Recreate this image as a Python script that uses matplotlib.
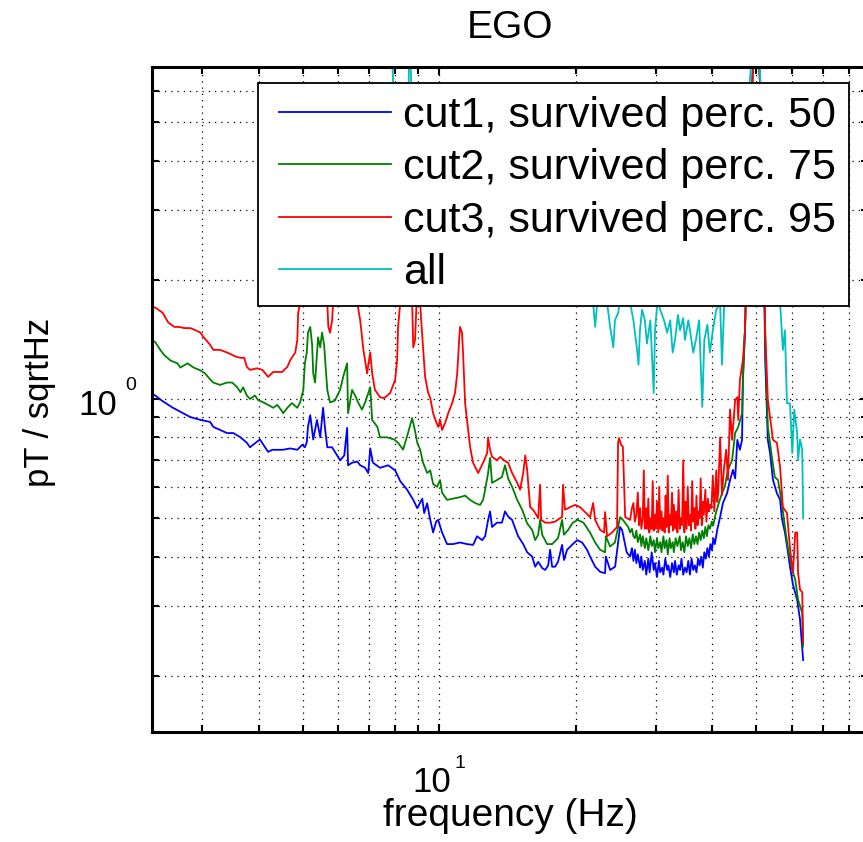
import numpy as np
import matplotlib
matplotlib.use('Agg')
import matplotlib.pyplot as plt
from matplotlib.ticker import LogLocator, NullFormatter
from matplotlib.legend_handler import HandlerLine2D

# --- Data (frequency in Hz, amplitude in pT/sqrtHz) ---
freq_cut1 = [2.33, 2.37, 2.45, 2.59, 2.73, 2.83, 2.98, 3.13, 3.18, 3.29,
             3.41, 3.52, 3.65, 3.77, 3.83, 3.97, 4.03, 4.10, 4.20, 4.29,
             4.40, 4.52, 4.70, 4.87, 4.99, 5.06, 5.11, 5.14, 5.20, 5.28,
             5.38, 5.47, 5.55, 5.61, 5.67, 5.81, 5.96, 6.05, 6.18, 6.27,
             6.30, 6.43, 6.60, 6.70, 6.87, 6.98, 7.05, 7.15, 7.41, 7.72,
             8.00, 8.21, 8.50, 8.77, 8.95, 9.18, 9.27, 9.41, 9.56, 9.70,
             9.85, 9.95, 10.15, 10.41, 10.73, 11.12, 11.52, 11.88, 12.12, 12.44,
             12.63, 12.82, 12.95, 13.08, 13.41, 13.75, 13.97, 14.19, 14.48, 14.93,
             15.32, 15.63, 16.03, 16.28, 16.53, 16.87, 17.13, 17.39, 17.56, 17.74,
             18.01, 18.28, 18.66, 18.84, 19.14, 19.62, 20.14, 20.66, 21.18, 21.51,
             22.07, 22.63, 23.21, 23.3, 23.81, 24.42, 24.79, 25.04, 25.3, 25.9,
             26.35, 26.6, 26.8, 27.0, 27.2, 27.4, 27.72, 27.9, 28.1, 28.4,
             28.6, 28.9, 29.1, 29.4, 29.7, 29.9, 30.2, 30.5, 30.7, 31.0,
             31.2, 31.5, 31.8, 32.0, 32.3, 32.6, 32.9, 33.1, 33.4, 33.7,
             33.95, 34.2, 34.5, 34.8, 35.1, 35.4, 35.7, 36.0, 36.3, 36.6,
             36.9, 37.2, 37.5, 37.8, 38.1, 38.4, 38.7, 39.0, 39.3, 39.6,
             39.9, 40.2, 40.5, 41.0,
             41.6, 42.2, 43.1, 43.75, 44.4, 44.9, 45.4,
             46.0, 46.5, 46.7, 47.2, 47.7, 48.4, 49.2, 49.7, 50.2, 50.9,
             51.7, 52.3, 53.0, 53.6, 54.4, 55.5, 56.4, 56.9, 57.8, 58.7,
             59.3, 60.2, 61.5, 62.4, 63.4]
psd_cut1 = [1.03, 1.02, 0.99, 0.95, 0.92, 0.90, 0.885, 0.875, 0.85, 0.835,
            0.82, 0.82, 0.80, 0.775, 0.755, 0.78, 0.79, 0.766, 0.735, 0.744,
            0.744, 0.744, 0.75, 0.744, 0.766, 0.755, 0.777, 0.85, 0.91, 0.79,
            0.885, 0.80, 0.95, 0.835, 0.755, 0.755, 0.72, 0.70, 0.72, 0.845,
            0.68, 0.69, 0.695, 0.68, 0.67, 0.65, 0.75, 0.69, 0.67, 0.68,
            0.66, 0.62, 0.59, 0.556, 0.53, 0.56, 0.515, 0.545, 0.495, 0.46,
            0.49, 0.495, 0.46, 0.43, 0.43, 0.434, 0.43, 0.428, 0.45, 0.44,
            0.45, 0.495, 0.52, 0.475, 0.487, 0.487, 0.52, 0.505, 0.495, 0.45,
            0.43, 0.41, 0.40, 0.377, 0.388, 0.374, 0.37, 0.38, 0.416, 0.377,
            0.377, 0.388, 0.428, 0.392, 0.416, 0.428, 0.44, 0.434, 0.416, 0.40,
            0.377, 0.366, 0.363, 0.40, 0.37, 0.377, 0.434, 0.475, 0.467, 0.41,
            0.40, 0.42, 0.39, 0.416, 0.385, 0.405, 0.375, 0.40, 0.37, 0.39,
            0.36, 0.395, 0.365, 0.41, 0.37, 0.385, 0.355, 0.39, 0.365, 0.375,
            0.36, 0.395, 0.37, 0.38, 0.355, 0.385, 0.365, 0.39, 0.36, 0.38,
            0.37, 0.395, 0.36, 0.375, 0.365, 0.39, 0.36, 0.395, 0.37, 0.38,
            0.365, 0.395, 0.38, 0.40, 0.375, 0.41, 0.395, 0.42, 0.40, 0.43,
            0.415, 0.445, 0.43, 0.467,
            0.503, 0.546, 0.578, 0.624, 0.662, 0.63, 0.788,
            0.744, 0.788, 1.117, 1.494, 2.38, 4.25, 7.2, 9.0, 9.0, 6.4,
            3.18, 1.25, 0.788, 0.73, 0.624, 0.578, 0.556, 0.50, 0.46, 0.41,
            0.377, 0.34, 0.311, 0.277, 0.219]

freq_cut2 = [2.33, 2.37, 2.43, 2.48, 2.56, 2.65, 2.69, 2.79, 2.88, 2.98,
             3.05, 3.13, 3.18, 3.29, 3.41, 3.50, 3.59, 3.65, 3.70, 3.77,
             3.83, 3.93, 3.99, 4.10, 4.20, 4.31, 4.40, 4.51, 4.53, 4.65,
             4.74, 4.87, 4.94, 5.02, 5.06, 5.11, 5.14, 5.20, 5.25, 5.28,
             5.33, 5.41, 5.47, 5.52, 5.58, 5.61, 5.67, 5.75, 5.89, 6.05,
             6.15, 6.27, 6.30, 6.43, 6.53, 6.63, 6.76, 6.87, 7.05, 7.12,
             7.31, 7.41, 7.68, 7.96, 8.12, 8.33, 8.54, 8.72, 8.85, 8.95,
             9.08, 9.22, 9.41, 9.56, 9.70, 9.90, 10.05, 10.15, 10.41, 10.73,
             11.12, 11.41, 11.70, 12.0, 12.31, 12.5, 12.63, 12.82, 12.95, 13.08,
             13.41, 13.75, 13.97, 14.19, 14.48, 14.86, 15.24, 15.63, 16.03, 16.28,
             16.53, 16.69, 16.87, 17.3, 17.74, 18.28, 18.66, 18.84, 19.24, 19.7,
             20.2, 20.8, 21.5, 22.07, 22.63, 23.21, 23.3, 23.81, 24.4, 24.8,
             25.04, 25.4, 26.1,
             26.35, 26.6, 26.8, 27.0, 27.2, 27.4, 27.72, 27.9, 28.1, 28.4,
             28.6, 28.9, 29.2, 29.4, 29.7, 29.9, 30.2, 30.4, 30.7, 30.9,
             31.2, 31.4, 31.7, 31.9, 32.2, 32.4, 32.7, 32.9, 33.2, 33.5,
             33.9, 34.1, 34.4, 34.7, 35.0, 35.3, 35.6, 35.9, 36.2, 36.5,
             36.8, 37.1, 37.4, 37.7, 38.0, 38.3, 38.6, 38.9, 39.2, 39.5,
             39.9, 40.2, 40.5,
             41.2, 42.0, 42.6, 43.3, 44.2, 44.9,
             45.6, 46.5, 46.7, 47.2, 47.7, 48.4, 49.2, 49.7, 50.2, 50.9,
             51.7, 52.3, 53.0, 54.1, 54.9, 55.8, 56.9, 57.8, 58.7, 60.0,
             60.9, 61.8, 63.1, 63.4]
psd_cut2 = [1.41, 1.39, 1.33, 1.29, 1.25, 1.23, 1.20, 1.23, 1.20, 1.18,
            1.16, 1.12, 1.10, 1.085, 1.10, 1.10, 1.07, 1.04, 1.07, 1.02,
            1.00, 1.02, 0.994, 0.98, 0.966, 0.95, 0.966, 0.93, 0.92, 0.955,
            0.976, 0.95, 0.98, 1.054, 1.23, 1.31, 1.47, 1.52, 1.37, 1.16,
            1.10, 1.43, 1.35, 1.47, 1.37, 1.25, 1.054, 0.98, 0.99, 1.054,
            1.14, 1.23, 0.92, 1.054, 1.02, 0.98, 0.94, 0.98, 1.07, 0.885,
            0.85, 0.80, 0.80, 0.79, 0.775, 0.745, 0.82, 0.895, 0.83, 0.775,
            0.745, 0.69, 0.65, 0.66, 0.61, 0.60, 0.624, 0.58, 0.556, 0.56,
            0.565, 0.57, 0.556, 0.546, 0.54, 0.556, 0.59, 0.65, 0.71, 0.614,
            0.624, 0.635, 0.68, 0.63, 0.60, 0.556, 0.525, 0.485, 0.467, 0.44,
            0.454, 0.495, 0.454, 0.43, 0.43, 0.445, 0.495, 0.454, 0.467, 0.487,
            0.495, 0.487, 0.46, 0.434, 0.416, 0.41, 0.45, 0.424, 0.434, 0.475,
            0.503, 0.495, 0.475,
            0.46, 0.47, 0.45, 0.445, 0.465, 0.435, 0.455, 0.425, 0.45, 0.42,
            0.445, 0.415, 0.45, 0.425, 0.44, 0.41, 0.445, 0.42, 0.435, 0.41,
            0.45, 0.42, 0.44, 0.405, 0.445, 0.42, 0.435, 0.41, 0.445, 0.425,
            0.45, 0.415, 0.435, 0.41, 0.45, 0.425, 0.445, 0.42, 0.455, 0.43,
            0.45, 0.43, 0.46, 0.44, 0.465, 0.445, 0.475, 0.45, 0.48, 0.47,
            0.49, 0.48, 0.503,
            0.54, 0.578, 0.60, 0.662, 0.70, 0.82,
            0.85, 0.92, 1.117, 1.494, 2.38, 4.25, 7.2, 9.0, 9.0, 6.4,
            3.18, 1.41, 0.85, 0.714, 0.635, 0.624, 0.546, 0.475, 0.42, 0.37,
            0.35, 0.311, 0.288, 0.237]

freq_cut3 = [2.33, 2.37, 2.46, 2.53, 2.61, 2.68, 2.74, 2.83, 2.91, 2.98,
             3.03, 3.13, 3.18, 3.29, 3.41, 3.56, 3.65, 3.72, 3.77, 3.83,
             3.97, 4.08, 4.14, 4.20, 4.31, 4.51, 4.63, 4.70, 4.82, 4.87,
             4.89, 4.94, 4.99, 5.06, 5.20, 5.41, 5.61, 5.67, 5.70, 5.75,
             5.81, 5.84, 6.05, 6.21, 6.37, 6.60, 6.70, 6.81, 6.94, 6.98,
             7.05, 7.12, 7.22, 7.41, 7.57, 7.80, 8.00, 8.08, 8.12, 8.21,
             8.41, 8.72, 8.77, 8.85, 8.99, 9.13, 9.31, 9.46, 9.56, 9.70,
             9.85, 9.95, 10.05, 10.15, 10.31, 10.47, 10.68, 10.84, 10.96, 11.07,
             11.12, 11.23, 11.29, 11.41, 11.52, 11.70, 11.88, 12.19, 12.5, 12.76,
             12.82, 12.95, 13.08, 13.41, 13.63, 13.9, 14.19, 14.48, 14.86, 15.08,
             15.32, 15.48, 15.63, 15.87, 16.11, 16.28, 16.53, 16.69, 16.78, 17.13,
             17.56, 18.01, 18.47, 18.66, 18.75, 18.94, 19.43, 19.93, 20.45, 20.97,
             21.51, 21.84, 22.07, 22.63, 23.1, 23.21, 23.45, 24.05, 24.66, 24.79,
             24.91, 25.17, 25.4, 25.7,
             26.35, 26.6, 26.8, 27.0, 27.2, 27.4, 27.55, 27.72, 27.9, 28.1,
             28.25, 28.4, 28.6, 28.75, 28.9, 29.05, 29.2, 29.4, 29.55, 29.7,
             29.9, 30.05, 30.2, 30.4, 30.55, 30.7, 30.9, 31.05, 31.2, 31.4,
             31.55, 31.7, 31.9, 32.05, 32.2, 32.4, 32.6, 32.75, 32.9, 33.1,
             33.3, 33.5, 33.7, 33.9, 34.1, 34.3, 34.5, 34.7, 34.9, 35.1,
             35.3, 35.5, 35.7, 35.9, 36.1, 36.3, 36.5, 36.7, 36.9, 37.1,
             37.3, 37.5, 37.7, 37.9, 38.1, 38.3, 38.6, 38.8, 39.1, 39.3,
             39.5, 39.8, 40.1, 40.4, 40.8, 41.0, 41.2,
             41.6, 42.0, 42.4, 42.9, 43.3, 43.75, 44.2, 44.9, 45.4, 45.6, 46.0,
             46.7, 47.2, 47.7, 48.4, 49.2, 49.7, 50.2, 50.9, 51.7, 52.3,
             53.0, 53.6, 54.4, 55.5, 56.4, 57.2, 58.4, 59.3, 60.2, 60.9,
             61.5, 61.8, 62.4, 63.1, 63.4]
psd_cut3 = [1.71, 1.70, 1.65, 1.56, 1.52, 1.52, 1.51, 1.51, 1.49, 1.47,
            1.43, 1.37, 1.33, 1.33, 1.31, 1.28, 1.27, 1.27, 1.205, 1.184,
            1.195, 1.184, 1.16, 1.137, 1.17, 1.17, 1.205, 1.254, 1.31, 1.41,
            1.65, 1.75, 2.245, 2.6, 2.8, 2.3, 2.0, 1.75, 1.52, 1.47,
            1.58, 1.75, 2.3, 2.6, 2.1, 1.75, 1.58, 1.33, 1.16, 1.22,
            1.31, 1.16, 1.054, 1.01, 1.005, 1.035, 1.117, 1.254, 1.52, 1.75,
            2.8, 1.75, 1.35, 1.41, 2.2, 1.58, 1.14, 1.035, 1.005, 0.92,
            0.875, 0.85, 0.885, 0.835, 0.87, 0.92, 0.975, 1.035, 1.16, 1.41,
            1.52, 1.47, 1.31, 0.975, 0.885, 0.757, 0.69, 0.65, 0.69, 0.73,
            0.80, 0.744, 0.714, 0.70, 0.714, 0.70, 0.69, 0.65, 0.614, 0.59,
            0.65, 0.72, 0.662, 0.533, 0.525, 0.515, 0.50, 0.607, 0.495, 0.487,
            0.487, 0.49, 0.50, 0.503, 0.607, 0.525, 0.533, 0.54, 0.533, 0.518,
            0.503, 0.546, 0.495, 0.467, 0.46, 0.518, 0.45, 0.46, 0.475, 0.775,
            0.797, 0.766, 0.757, 0.503,
            0.495, 0.53, 0.546, 0.49, 0.51, 0.58, 0.48, 0.53, 0.47, 0.50,
            0.66, 0.47, 0.53, 0.47, 0.56, 0.46, 0.50, 0.47, 0.62, 0.465,
            0.51, 0.47, 0.55, 0.46, 0.60, 0.47, 0.52, 0.465, 0.50, 0.46,
            0.57, 0.475, 0.64, 0.46, 0.51, 0.48, 0.58, 0.465, 0.54, 0.47,
            0.52, 0.46, 0.59, 0.47, 0.50, 0.48, 0.70, 0.46, 0.55, 0.47,
            0.60, 0.48, 0.51, 0.465, 0.62, 0.49, 0.53, 0.47, 0.57, 0.48,
            0.52, 0.50, 0.63, 0.48, 0.55, 0.51, 0.59, 0.49, 0.56, 0.52,
            0.54, 0.53, 0.64, 0.52, 0.66, 0.55, 0.58,
            0.80, 0.572, 0.662, 0.744, 0.624, 0.94, 0.788, 0.994, 1.01, 0.885, 1.117,
            1.254, 1.49, 2.38, 4.25, 7.2, 9.0, 9.0, 6.4, 3.18, 1.49,
            0.994, 0.90, 0.788, 0.775, 0.673, 0.533, 0.515, 0.42, 0.363, 0.46,
            0.46, 0.363, 0.33, 0.325, 0.242]

freq_all = [2.33, 3.0, 4.0, 5.0, 5.5, 6.0, 6.5, 7.0, 7.5, 7.85,
            7.92, 7.98, 8.2, 8.5, 8.6, 8.68, 8.75, 9.0, 10.0, 11.0,
            12.0, 13.0, 14.0, 15.0, 16.0, 17.0, 18.0, 19.0, 20.0, 21.5,
            21.84, 22.07, 22.3, 22.63, 23.45, 23.81, 24.2, 24.4, 24.8, 25.0,
            25.7, 26.35, 26.8, 27.3, 27.5, 27.7, 28.0, 28.4, 28.7, 29.2,
            29.7, 29.9, 30.3, 30.7, 31.3, 31.8, 32.3, 32.7, 33.1, 33.6,
            33.95, 34.5, 34.8, 35.4, 35.7, 36.3, 36.8, 37.4, 38.0, 38.4,
            39.0, 39.5, 40.1, 40.8, 41.6, 42.0, 42.6, 43.75, 46.0, 48.0,
            49.2, 50.0, 50.6, 51.7, 53.6, 54.9, 56.4, 57.2, 57.8, 58.4,
            59.3, 60.0, 60.6, 61.5, 61.8, 62.4, 63.1, 63.4]
psd_all = [12.0, 11.0, 10.5, 14.0, 16.0, 11.0, 13.0, 10.0, 9.0, 8.0,
           6.3, 4.5, 3.5, 3.2, 8.5, 6.3, 3.6, 3.2, 3.0, 4.0,
           3.5, 3.0, 2.6, 2.8, 2.4, 2.6, 2.2, 2.4, 2.1, 1.88,
           1.75, 1.52, 1.75, 1.9, 1.75, 1.52, 1.35, 1.58, 1.65, 1.75,
           1.9, 1.75, 1.58, 1.33, 1.22, 1.49, 1.68, 1.58, 1.38, 1.58,
           1.035, 1.49, 1.78, 1.68, 1.58, 1.47, 1.58, 1.31, 1.41, 1.63,
           1.49, 1.6, 1.41, 1.58, 1.49, 1.31, 1.41, 1.58, 0.955, 1.41,
           1.54, 1.31, 1.49, 1.68, 1.75, 1.22, 1.9, 2.0, 3.2, 5.7,
           8.1, 9.0, 8.1, 4.25, 2.4, 1.9, 1.75, 1.33, 1.49, 0.975,
           0.975, 0.73, 0.94, 0.82, 0.70, 0.79, 0.745, 0.50]

series_labels = ['cut1, survived perc. 50', 'cut2, survived perc. 75',
                 'cut3, survived perc. 95', 'all']
series_colors = ['#0000FF', '#008000', '#FF0000', '#00BFBF']

# --- Figure ---
plt.rcParams['font.family'] = ['Liberation Sans', 'DejaVu Sans']
W, H = 863, 842
fig = plt.figure(figsize=(W / 100, H / 100), dpi=100)
ax_l, ax_r, ax_t, ax_b = 152, 868, 67, 732
ax = fig.add_axes([ax_l / W, 1 - ax_b / H, (ax_r - ax_l) / W, (ax_b - ax_t) / H])

curves = [(freq_cut1, psd_cut1), (freq_cut2, psd_cut2),
          (freq_cut3, psd_cut3), (freq_all, psd_all)]
for (f, v), lab, col in zip(curves, series_labels, series_colors):
    ax.plot(f, v, color=col, linewidth=1.3, label=lab)

ax.set_xscale('log')
ax.set_yscale('log')
ax.set_xlim(2.33, 88.1)
ax.set_ylim(0.1442, 6.89)

for axis in (ax.xaxis, ax.yaxis):
    axis.set_major_locator(LogLocator(base=10))
    axis.set_minor_locator(LogLocator(base=10, subs=np.arange(2, 10)))
    axis.set_major_formatter(NullFormatter())
    axis.set_minor_formatter(NullFormatter())

ax.grid(True, which='both', color='black', linestyle=(0, (1, 4)), linewidth=0.9)
ax.tick_params(which='both', direction='in', top=True, right=True, width=1.5, color='black')
ax.tick_params(which='major', length=6)
ax.tick_params(which='minor', length=5)
for sp in ax.spines.values():
    sp.set_linewidth(2.2)

# MATLAB-like tick labels 10^1 and 10^0
ax.annotate('10', xy=(10, 0), xycoords=('data', 'axes fraction'), xytext=(12, -60),
            textcoords='offset pixels', ha='right', va='baseline', fontsize=25)
ax.annotate('1', xy=(10, 0), xycoords=('data', 'axes fraction'), xytext=(15, -36),
            textcoords='offset pixels', ha='left', va='baseline', fontsize=14)
ax.annotate('10', xy=(0, 1), xycoords=('axes fraction', 'data'), xytext=(-35, -16),
            textcoords='offset pixels', ha='right', va='baseline', fontsize=25)
ax.annotate('0', xy=(0, 1), xycoords=('axes fraction', 'data'), xytext=(-27, 9),
            textcoords='offset pixels', ha='left', va='baseline', fontsize=14)

ax.set_title('EGO', fontsize=28, pad=21)
ax.set_xlabel('frequency (Hz)', fontsize=28)
ax.xaxis.set_label_coords(0.5, (ax_b - 798) / (ax_b - ax_t))
ax.set_ylabel('pT / sqrtHz', fontsize=25)
ax.yaxis.set_label_coords((56 - ax_l) / (ax_r - ax_l), (ax_b - 402) / (ax_b - ax_t))

leg = ax.legend(loc='upper right', bbox_to_anchor=((849 - ax_l) / (ax_r - ax_l), (ax_b - 83) / (ax_b - ax_t)),
                borderaxespad=0, fontsize=31, fancybox=False, framealpha=1,
                edgecolor='black', borderpad=0.3, labelspacing=0.29,
                handlelength=2.8, handletextpad=0.28,
                handler_map={plt.Line2D: HandlerLine2D(xpad=0.2)})
leg.get_frame().set_linewidth(1.3)

fig.savefig('out.png', dpi=100)
